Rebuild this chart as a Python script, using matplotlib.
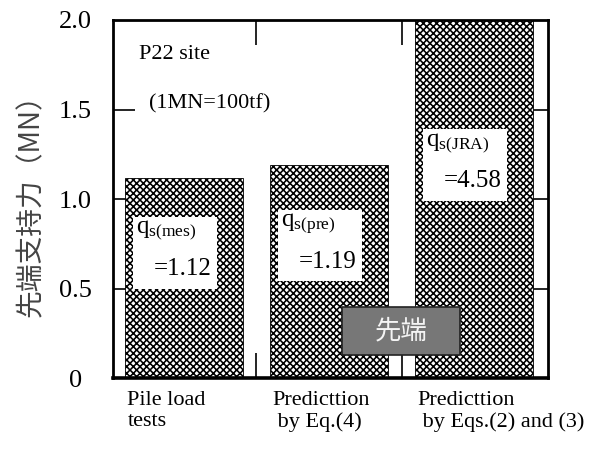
import numpy as np
import matplotlib
matplotlib.use("Agg")
import matplotlib.pyplot as plt
import matplotlib.transforms as mtransforms
from matplotlib.patches import Rectangle

# data (MN)
categories = ["Pile load\ntests", "Predicttion\n by Eq.(4)", "Predicttion\n by Eqs.(2) and (3)"]
values = [1.12, 1.19, 4.58]
subscripts = ["s(mes)", "s(pre)", "s(JRA)"]
yticks = [0, 0.5, 1.0, 1.5, 2.0]
ytick_labels = ["0", "0.5", "1.0", "1.5", "2.0"]

plt.rcParams['font.family'] = ['Liberation Serif', 'DejaVu Serif']
plt.rcParams['mathtext.fontset'] = 'custom'
plt.rcParams['mathtext.rm'] = 'Liberation Serif'
plt.rcParams['mathtext.it'] = 'Liberation Serif'
plt.rcParams['hatch.linewidth'] = 1.15

fig = plt.figure(figsize=(5.97, 4.54), dpi=100)
ax = fig.add_axes([0.189, 0.167, 0.729, 0.789])

x = np.arange(len(values))
ax.bar(x, values, width=0.81, color='white', edgecolor='black', hatch='xxxxx', linewidth=0.6, zorder=2)

ax.set_xlim(-0.49, 2.51)
ax.set_ylim(0, 2.0)

# value boxes inside the bars
box_top = [0.90, 0.94, 1.39]
for xi, v, sub, top in zip(x, values, subscripts, box_top):
    ax.add_patch(Rectangle((xi - 0.35, top - 0.40), 0.58, 0.40, facecolor='white',
                           edgecolor='none', zorder=3))
    ax.text(xi - 0.33, top - 0.01, r'$\mathrm{q}_{\mathrm{' + sub + '}}$', fontsize=18,
            va='top', ha='left', zorder=4)
    ax.text(xi + 0.19, top - 0.29, "=%.2f" % v, fontsize=18, va='center', ha='right', zorder=4)

# axes styling
for s in ax.spines.values():
    s.set_linewidth(2)
ax.spines['bottom'].set_linewidth(2.6)
ax.set_yticks(yticks)
ax.set_yticklabels(ytick_labels, fontsize=19, ha='center')
ax.tick_params(axis='y', direction='in', length=16, width=1.2, pad=27, right=True)
ax.set_xticks([0.5, 1.5])
ax.set_xticklabels([])
ax.tick_params(axis='x', direction='in', length=18, width=1.2, top=True)
# no tick marks at 0 and 2
for t in ax.yaxis.get_major_ticks():
    if t.get_loc() in (0, 2.0):
        t.tick2line.set_visible(False)
        t.tick1line.set_visible(False)

# category labels, left aligned under the bars
trans = mtransforms.blended_transform_factory(ax.transData, ax.transAxes)
for xi, lab in zip(x, categories):
    ax.text(xi - 0.39, -0.035, lab, transform=trans, fontsize=16, va='top', ha='left',
            linespacing=1.15)

ax.text(0.06, 0.905, "P22 site", transform=ax.transAxes, fontsize=16, va='center')
ax.text(0.083, 0.765, "(1MN=100tf)", transform=ax.transAxes, fontsize=16, va='center')

ax.set_ylabel("先端支持力（MN）", fontsize=20, color='#444444', labelpad=9,
              family=['Noto Sans CJK JP', 'DejaVu Sans'])

# gray stamp
ax.add_patch(Rectangle((1.09, 0.13), 0.81, 0.27, facecolor='#777777', edgecolor='#222222',
                       linewidth=1.2, zorder=5))
ax.text(1.495, 0.265, "先端", fontsize=19, color='#f4f4f4', ha='center', va='center', zorder=6,
        family=['Noto Sans CJK JP', 'DejaVu Sans'])

fig.savefig("out.png", dpi=100)
